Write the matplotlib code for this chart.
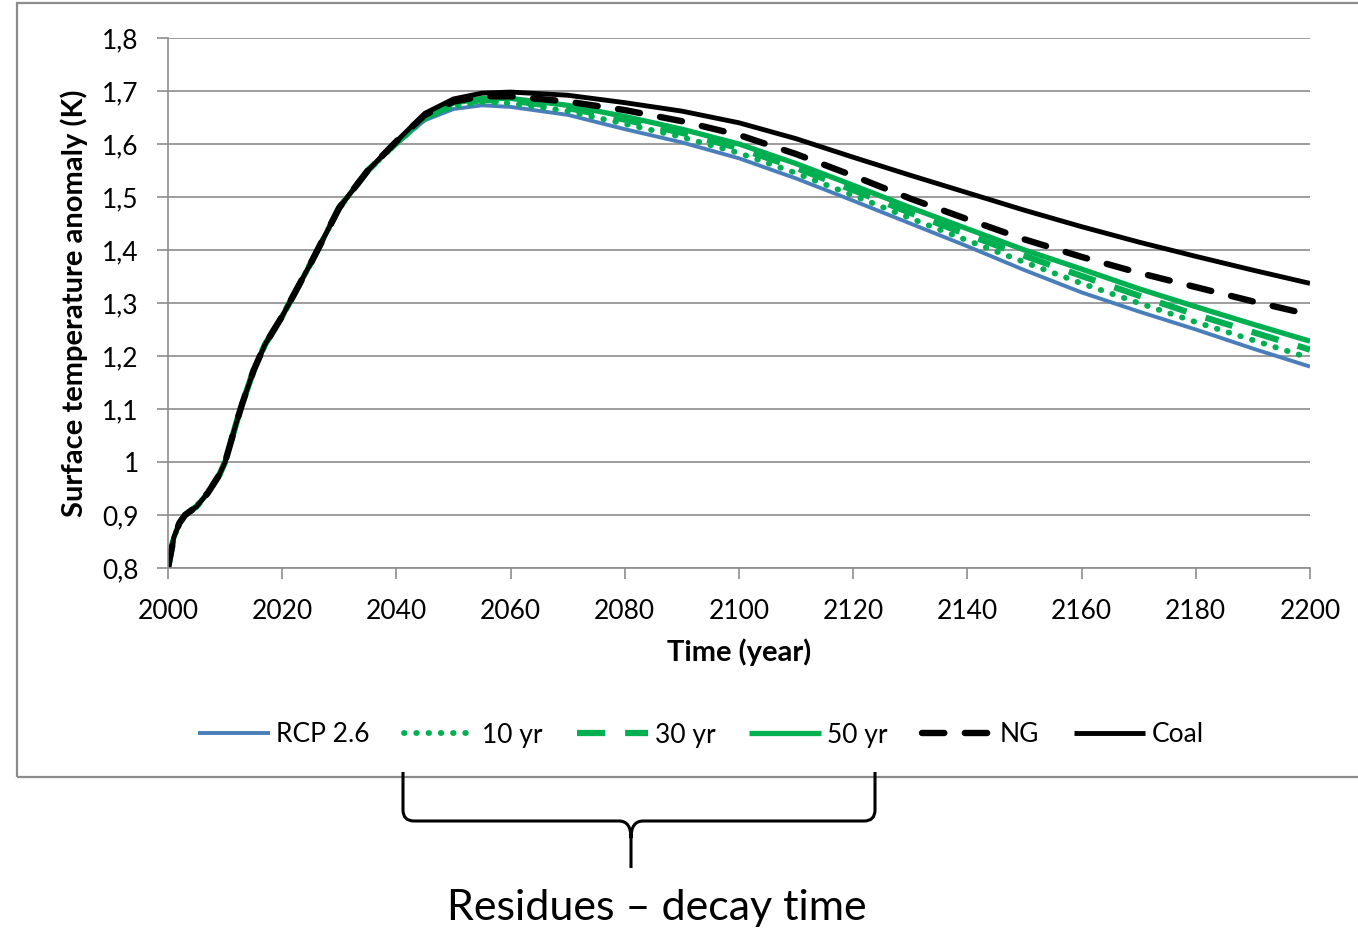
import matplotlib
matplotlib.use("Agg")
import matplotlib.pyplot as plt
import numpy as np
from matplotlib.path import Path
from matplotlib.patches import PathPatch, Rectangle
from matplotlib.ticker import FuncFormatter, MultipleLocator

plt.rcParams["font.family"] = ["Lato", "DejaVu Sans"]

# shared rise (all scenarios coincide until ~2035)
early_years = [2000, 2001, 2002, 2003, 2004, 2005, 2007, 2009, 2010, 2012,
               2013, 2015, 2017, 2020, 2025, 2030, 2035]
early_vals = [0.80, 0.857, 0.885, 0.90, 0.908, 0.916, 0.942, 0.976, 1.0,
              1.075, 1.11, 1.173, 1.222, 1.275, 1.375, 1.48, 1.55]

tail_years = [2040, 2045, 2050, 2055, 2060, 2070, 2080, 2090, 2100, 2110,
              2120, 2130, 2140, 2150, 2160, 2170, 2180, 2190, 2200]
rcp26 = [1.600, 1.645, 1.666, 1.673, 1.670, 1.655, 1.628, 1.603, 1.573,
         1.535, 1.493, 1.450, 1.407, 1.362, 1.320, 1.284, 1.250, 1.214, 1.180]
yr10 = [1.601, 1.648, 1.671, 1.679, 1.677, 1.662, 1.638, 1.613, 1.583,
        1.545, 1.503, 1.460, 1.418, 1.377, 1.337, 1.300, 1.264, 1.230, 1.196]
yr30 = [1.602, 1.650, 1.674, 1.683, 1.682, 1.668, 1.646, 1.621, 1.592,
        1.555, 1.513, 1.470, 1.429, 1.389, 1.351, 1.314, 1.278, 1.245, 1.212]
yr50 = [1.603, 1.652, 1.677, 1.686, 1.686, 1.673, 1.652, 1.628, 1.600,
        1.563, 1.522, 1.480, 1.440, 1.400, 1.364, 1.327, 1.293, 1.260, 1.228]
ng = [1.605, 1.655, 1.680, 1.690, 1.690, 1.680, 1.664, 1.643, 1.617,
      1.581, 1.540, 1.497, 1.458, 1.420, 1.387, 1.357, 1.330, 1.303, 1.278]
coal = [1.605, 1.658, 1.685, 1.696, 1.698, 1.692, 1.678, 1.662, 1.640,
        1.610, 1.575, 1.541, 1.508, 1.475, 1.444, 1.415, 1.388, 1.362, 1.337]

years = np.array(early_years + tail_years)

green = "#00B050"
series = [
    ("RCP 2.6", rcp26, dict(color="#4A7EBB", lw=2.8)),
    ("10 yr", yr10, dict(color=green, lw=4.2, linestyle=(0, (0.1, 2.0)),
                         dash_capstyle="round")),
    ("30 yr", yr30, dict(color=green, lw=4.5, linestyle=(0, (4.5, 3.2)))),
    ("50 yr", yr50, dict(color=green, lw=3.8)),
    ("NG", ng, dict(color="black", lw=4.6, linestyle=(0, (3.5, 3.2)),
                    dash_capstyle="round")),
    ("Coal", coal, dict(color="black", lw=3.5)),
]

W, H = 1358, 931
fig = plt.figure(figsize=(W / 100, H / 100), dpi=100)
ax = fig.add_axes([168 / W, 1 - 568 / H, (1310 - 168) / W, (568 - 38) / H])

for name, tail, style in series:
    ax.plot(years, early_vals + tail, label=name, solid_capstyle="butt", **style)

grid_col = "#8c8c8c"
ax.set_xlim(2000, 2200)
ax.set_ylim(0.8, 1.8)
ax.xaxis.set_major_locator(MultipleLocator(20))
ax.yaxis.set_major_locator(MultipleLocator(0.1))
ax.yaxis.set_major_formatter(
    FuncFormatter(lambda v, p: f"{v:.1f}".replace(".", ",").replace(",0", ""))
)
ax.grid(axis="y", color=grid_col, lw=1.2)
ax.set_axisbelow(True)
for s in ["top", "right"]:
    ax.spines[s].set_visible(False)
for s in ["left", "bottom"]:
    ax.spines[s].set_color(grid_col)
    ax.spines[s].set_linewidth(1.2)
ax.tick_params(axis="both", colors=grid_col, labelcolor="black",
               labelsize=19, length=8, width=1.2)
ax.tick_params(axis="y", pad=13)
ax.tick_params(axis="x", pad=14)

ax.set_xlabel("Time (year)", fontsize=21, fontweight="bold", labelpad=11)
ax.set_ylabel("Surface temperature anomaly (K)", fontsize=21,
              fontweight="bold", labelpad=10)

fig.legend(loc="center", bbox_to_anchor=(701 / W, 1 - 735 / H), ncol=6,
           frameon=False, fontsize=19, handlelength=2.7, handletextpad=0.25,
           columnspacing=1.3)

# outer chart frame
fig.patches.append(Rectangle((17 / W, 1 - 777 / H), 1.1, (777 - 3) / H,
                             transform=fig.transFigure, fill=False,
                             edgecolor=grid_col, lw=1.6))


# curly brace under the legend
def fp(x, y):
    return (x / W, 1 - y / H)


verts = [fp(403, 772), fp(403, 810), fp(403, 821), fp(414, 821),
         fp(619, 821), fp(631, 821), fp(631, 838), fp(631, 868),
         fp(631, 838), fp(631, 821), fp(643, 821), fp(864, 821),
         fp(875, 821), fp(875, 810), fp(875, 772)]
codes = [Path.MOVETO, Path.LINETO, Path.CURVE3, Path.CURVE3,
         Path.LINETO, Path.CURVE3, Path.CURVE3, Path.LINETO,
         Path.MOVETO, Path.CURVE3, Path.CURVE3, Path.LINETO,
         Path.CURVE3, Path.CURVE3, Path.LINETO]
fig.patches.append(PathPatch(Path(verts, codes), transform=fig.transFigure,
                             fill=False, edgecolor="black", lw=2.2))

fig.text(657 / W, 1 - 908 / H, "Residues \u2013 decay time", fontsize=31,
         ha="center", va="center")

fig.savefig("out.png", dpi=100)
plt.close(fig)
